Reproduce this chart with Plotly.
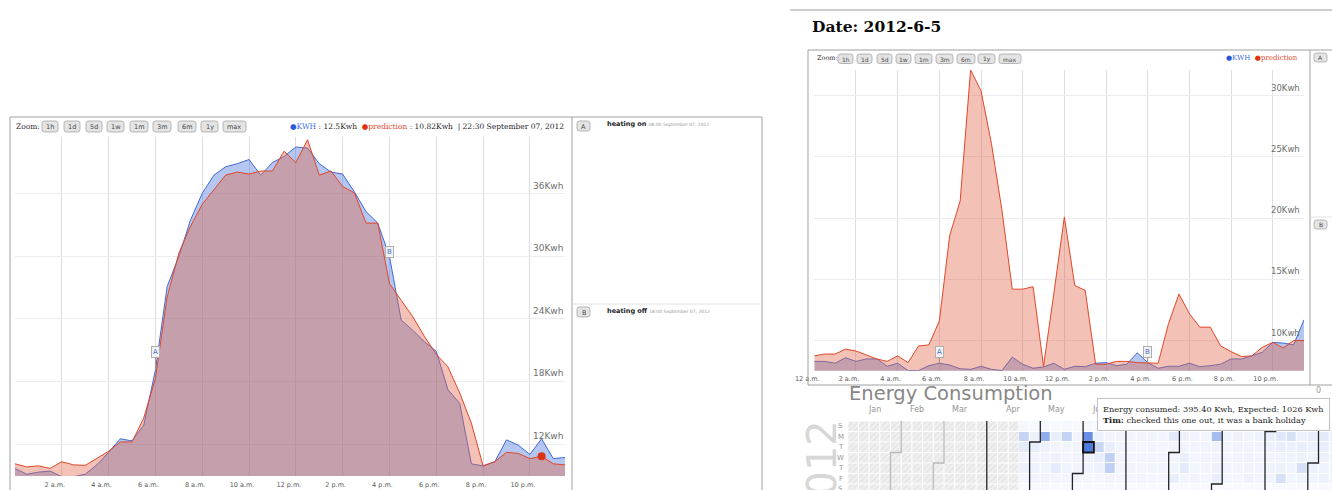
import datetime as dt
import plotly.graph_objects as go

W, H = 1332, 490

# ------------------------------------------------------------------ data
hours = [i * 0.5 for i in range(48)]
tick_hours = [0, 2, 4, 6, 8, 10, 12, 14, 16, 18, 20, 22]
tick_text = ["12 a.m.", "2 a.m.", "4 a.m.", "6 a.m.", "8 a.m.", "10 a.m.",
             "12 p.m.", "2 p.m.", "4 p.m.", "6 p.m.", "8 p.m.", "10 p.m."]

# 2012-09-07 (left chart)
sep_kwh = [9.66, 9.1, 9.3, 9.4, 8.86, 8.86, 9.1, 10.0, 11.2, 12.5, 12.3, 13.8,
           19.1, 27.1, 30.0, 33.5, 36.05, 37.8, 38.6, 38.9, 39.3, 37.8, 39.0, 39.6,
           40.5, 40.4, 38.9, 38.1, 37.9, 36.2, 34.3, 33.2, 30.0, 23.9, 22.9, 21.8,
           20.9, 17.2, 15.9, 10.1, 9.9, 10.3, 12.4, 11.9, 11.0, 12.5, 10.6, 10.7]
sep_pred = [10.1, 9.8, 9.9, 9.66, 10.3, 10.0, 9.95, 10.6, 11.3, 12.2, 12.2, 14.5,
            18.3, 26.1, 30.3, 32.9, 35.0, 36.4, 37.8, 38.1, 37.9, 38.2, 38.2, 40.1,
            39.0, 41.2, 37.8, 38.2, 36.7, 36.1, 33.2, 33.2, 27.4, 25.8, 24.2, 22.3,
            20.6, 19.4, 16.9, 14.0, 9.9, 10.3, 11.2, 11.1, 10.6, 10.82, 10.1, 10.0]
sep_yticks = [12, 18, 24, 30, 36]

# 2012-06-05 (right chart)
jun_kwh = [8.3, 8.3, 8.15, 8.6, 8.3, 8.5, 8.5, 7.9, 8.15, 7.55, 7.55, 7.95,
           8.15, 8.0, 7.7, 7.65, 7.9, 7.65, 7.55, 8.65, 8.07, 7.74, 7.85, 8.15,
           7.65, 7.9, 7.87, 8.15, 8.2, 7.95, 8.07, 9.0, 8.2, 7.74, 7.9, 7.9,
           8.15, 7.87, 7.95, 8.07, 8.5, 8.5, 8.75, 9.05, 9.85, 9.8, 9.65, 11.7]
jun_pred = [8.75, 8.9, 8.9, 9.3, 9.15, 8.8, 8.5, 8.3, 8.75, 8.2, 9.56, 9.65,
            11.6, 18.6, 21.4, 32.1, 30.4, 26.1, 20.7, 14.2, 14.2, 14.4, 7.9, 13.9,
            20.1, 14.5, 14.1, 8.07, 8.07, 8.3, 8.3, 8.2, 8.2, 8.15, 11.4, 13.8,
            12.2, 11.1, 11.1, 9.56, 9.1, 8.7, 8.75, 9.45, 9.85, 9.4, 10.0, 10.0]
jun_yticks = [10, 15, 20, 25, 30]

hover_idx = 45           # 22:30
flag_idx = {"A": 12, "B": 32}

# daily energy (Kwh) by week, rows Sun..Sat, first week = week 16 of 2012
heat_first_week = 16
heat_weeks = [
    [20, 150, 80, 40, 60, 30, 15], [15, 60, 70, 45, 50, 40, 15],
    [20, 260, 60, 50, 40, 45, 20], [15, 70, 40, 60, 75, 35, 15],
    [20, 150, 45, 40, 40, 30, 15], [15, 35, 40, 45, 40, 40, 20],
    [25, 340, 395.4, 60, 50, 30, 15], [20, 60, 140, 70, 60, 30, 15],
    [15, 45, 70, 160, 160, 40, 20], [15, 40, 45, 40, 35, 30, 15],
    [15, 30, 35, 30, 40, 35, 15], [15, 40, 30, 35, 30, 40, 15],
    [15, 50, 40, 35, 45, 30, 15], [15, 35, 30, 40, 35, 30, 15],
    [15, 80, 40, 35, 40, 70, 15], [15, 60, 45, 70, 80, 35, 15],
    [15, 40, 35, 30, 30, 40, 15], [15, 35, 40, 45, 35, 30, 15],
    [15, 220, 50, 40, 60, 70, 15], [15, 45, 40, 35, 40, 35, 15],
    [15, 60, 50, 40, 35, 30, 15], [15, 40, 45, 50, 40, 60, 15],
    [15, 50, 40, 35, 45, 40, 15], [15, 70, 60, 45, 50, 40, 15],
    [15, 90, 70, 50, 60, 110, 15], [15, 110, 60, 50, 45, 40, 15],
    [15, 60, 70, 60, 110, 50, 15], [15, 70, 60, 50, 60, 45, 15],
    [15, 80, 70, 60, 50, 60, 15], [15, 60, 50, 45, 40, 35, 15],
]
selected_date = dt.date(2012, 6, 5)
expected_kwh = 1026
month_names = ["Jan", "Feb", "Mar", "Apr", "May", "Jun"]   # later labels sit under the tooltip
day_letters = ["S", "M", "T", "W", "T", "F", "S"]

# ------------------------------------------------------------------ helpers
def px(x):
    return x / W

def py(y):
    return 1 - y / H

BLUE_L = "rgb(65,105,215)"
BLUE_F = "rgba(70,115,220,0.40)"
RED_L = "rgb(225,70,40)"
RED_F = "rgba(225,100,70,0.40)"

shapes = []
annots = []

def line(x0, y0, x1, y1, color="rgb(160,160,160)", width=1):
    shapes.append(dict(type="line", xref="paper", yref="paper",
                       x0=px(x0), y0=py(y0), x1=px(x1), y1=py(y1),
                       line=dict(color=color, width=width)))

def text(x, y, s, size, color="rgb(40,40,40)", family="DejaVu Sans",
         xanchor="left", yanchor="middle", **kw):
    annots.append(dict(xref="paper", yref="paper", x=px(x), y=py(y), text=s,
                       showarrow=False, xanchor=xanchor, yanchor=yanchor,
                       font=dict(size=size, color=color, family=family), **kw))

def button(x0, x1, y0, y1, label, size=6.5):
    r = 2.5
    p = (f"M {px(x0 + r)},{py(y0)} L {px(x1 - r)},{py(y0)} Q {px(x1)},{py(y0)} {px(x1)},{py(y0 + r)} "
         f"L {px(x1)},{py(y1 - r)} Q {px(x1)},{py(y1)} {px(x1 - r)},{py(y1)} "
         f"L {px(x0 + r)},{py(y1)} Q {px(x0)},{py(y1)} {px(x0)},{py(y1 - r)} "
         f"L {px(x0)},{py(y0 + r)} Q {px(x0)},{py(y0)} {px(x0 + r)},{py(y0)} Z")
    shapes.append(dict(type="path", xref="paper", yref="paper", path=p,
                       fillcolor="rgb(228,228,228)", line=dict(color="rgb(165,165,165)", width=0.8)))
    text((x0 + x1) / 2, (y0 + y1) / 2 + 0.5, label, size, "rgb(70,70,70)", xanchor="center")

# ------------------------------------------------------------------ traces
fig = go.Figure()
fig.add_trace(go.Scatter(x=hours, y=sep_kwh, mode="lines", fill="tozeroy", fillcolor=BLUE_F,
                         line=dict(color=BLUE_L, width=1), xaxis="x", yaxis="y"))
fig.add_trace(go.Scatter(x=hours, y=sep_pred, mode="lines", fill="tozeroy", fillcolor=RED_F,
                         line=dict(color=RED_L, width=1), xaxis="x", yaxis="y"))
fig.add_trace(go.Scatter(x=[hours[hover_idx]], y=[sep_pred[hover_idx]], mode="markers",
                         marker=dict(size=8, color="rgb(220,50,20)"), xaxis="x", yaxis="y"))
fig.add_trace(go.Scatter(x=hours, y=jun_kwh, mode="lines", fill="tozeroy", fillcolor=BLUE_F,
                         line=dict(color=BLUE_L, width=1), xaxis="x2", yaxis="y2"))
fig.add_trace(go.Scatter(x=hours, y=jun_pred, mode="lines", fill="tozeroy", fillcolor=RED_F,
                         line=dict(color=RED_L, width=1), xaxis="x2", yaxis="y2"))

# y tick labels (drawn inside the plot, above each grid line)
for v in sep_yticks:
    annots.append(dict(xref="paper", yref="y", x=px(565), y=v, text=f"{v}Kwh", showarrow=False,
                       xanchor="right", yanchor="bottom", yshift=1,
                       font=dict(size=9, color="rgb(110,110,110)", family="DejaVu Sans")))
for v in jun_yticks:
    annots.append(dict(xref="paper", yref="y2", x=px(1302), y=v, text=f"{v}Kwh", showarrow=False,
                       xanchor="right", yanchor="bottom", yshift=1,
                       font=dict(size=8.5, color="rgb(110,110,110)", family="DejaVu Sans")))

# calendar heatmap
jan1 = dt.date(2012, 1, 1)
jan1_wd = (jan1.weekday() + 1) % 7  # Sunday = 0

def cell(d):
    doy = (d - jan1).days
    return (doy + jan1_wd) // 7, (d.weekday() + 1) % 7

n_weeks = heat_first_week + len(heat_weeks)
z = [[None] * n_weeks for _ in range(7)]
for k, wk in enumerate(heat_weeks):
    for r, v in enumerate(wk):
        z[r][heat_first_week + k] = v

hx, hb = [], []
d = jan1
while cell(d)[0] < heat_first_week:
    w, r = cell(d)
    hx.append(w)
    hb.append(r - 0.46)
    d += dt.timedelta(days=1)
fig.add_trace(go.Bar(x=hx, y=[0.92] * len(hx), base=hb, width=0.9,
                     marker=dict(color="rgb(240,240,240)", line=dict(width=0),
                                 pattern=dict(shape="/", fgcolor="rgb(205,205,205)", size=4, solidity=0.25)),
                     xaxis="x3", yaxis="y3"))
fig.add_trace(go.Heatmap(z=z, x=list(range(n_weeks)), y=list(range(7)), zmin=0, zmax=400,
                         colorscale=[[0, "rgb(250,251,255)"], [0.15, "rgb(236,241,252)"],
                                     [0.5, "rgb(175,195,240)"], [1, "rgb(75,120,225)"]],
                         showscale=False, xgap=1, ygap=1, xaxis="x3", yaxis="y3"))

# month boundaries
for m in range(2, 12):
    w, r = cell(dt.date(2012, m, 1))
    col = "rgb(35,35,35)" if w + (1 if r else 0) >= heat_first_week - 3 else "rgb(185,185,185)"
    if r == 0:
        p = f"M {w - 0.5},-0.5 L {w - 0.5},7"
    else:
        p = f"M {w + 0.5},-0.5 L {w + 0.5},{r - 0.5} L {w - 0.5},{r - 0.5} L {w - 0.5},7"
    shapes.append(dict(type="path", xref="x3", yref="y3", path=p, line=dict(color=col, width=1.3)))
sw, sr = cell(selected_date)
shapes.append(dict(type="rect", xref="x3", yref="y3", x0=sw - 0.5, x1=sw + 0.5, y0=sr - 0.5, y1=sr + 0.5,
                   line=dict(color="rgb(20,20,20)", width=2)))
for i, name in enumerate(month_names):
    w, _ = cell(dt.date(2012, i + 1, 1))
    annots.append(dict(xref="x3", yref="paper", x=w + 2, y=py(415), text=name, showarrow=False,
                       borderpad=0, font=dict(size=8, color="rgb(150,150,150)", family="DejaVu Sans")))
for r, s in enumerate(day_letters):
    annots.append(dict(xref="paper", yref="y3", x=px(841), y=r, text=s, showarrow=False,
                       font=dict(size=7, color="rgb(150,150,150)", family="DejaVu Sans")))

# ------------------------------------------------------------------ frames / chrome
line(790, 10, 1332, 10, "rgb(205,205,205)", 2)
text(810, 27, "<b>Date: 2012-6-5</b>", 15.5, "rgb(10,10,10)", "DejaVu Serif")

# left chart frame
line(10, 117, 762, 117)
line(10, 117, 10, 490)
line(762, 117, 762, 490)
line(572, 117, 572, 490)
line(572, 304, 762, 304, "rgb(225,225,225)")
# right chart frame
line(808, 50, 1332, 50)
line(808, 50, 808, 385)
line(808, 385, 1332, 385)
line(1310, 50, 1310, 385)
line(1310, 217, 1332, 217, "rgb(225,225,225)")

zoom_labels = ["1h", "1d", "5d", "1w", "1m", "3m", "6m", "1y", "max"]
left_btn_x = [(42, 58), (64, 80), (86, 102), (107, 124), (130, 148), (153, 171), (178, 196), (201, 218), (223, 246)]
right_btn_x = [(838, 853), (857, 872), (877, 892), (896, 911), (915, 932), (936, 953), (957, 975), (978, 995), (999, 1021)]
text(14, 126.5, "Zoom:", 7.5, "rgb(50,50,50)", "DejaVu Serif")
for (a, b), lab in zip(left_btn_x, zoom_labels):
    button(a, b, 121, 132, lab)
text(815, 58.5, "Zoom:", 6.5, "rgb(50,50,50)", "DejaVu Serif")
for (a, b), lab in zip(right_btn_x, zoom_labels):
    button(a, b, 54, 63.5, lab, 6)

legend_left = (f"<span style='color:rgb(40,90,220)'>●</span><span style='color:rgb(70,110,220)'>KWH</span>"
               f" : {sep_kwh[hover_idx]}Kwh  <span style='color:rgb(225,50,20)'>●</span>"
               f"<span style='color:rgb(225,70,40)'>prediction</span> : {sep_pred[hover_idx]}Kwh  | 22:30 September 07, 2012")
text(566, 126.5, legend_left, 7.5, "rgb(40,40,40)", "DejaVu Serif", xanchor="right")
legend_right = ("<span style='color:rgb(40,90,220)'>●</span><span style='color:rgb(70,110,220)'>KWH</span>  "
                "<span style='color:rgb(225,50,20)'>●</span><span style='color:rgb(225,70,40)'>prediction</span>")
text(1300, 58.5, legend_right, 7, "rgb(40,40,40)", "DejaVu Serif", xanchor="right")

# event panels
button(577, 590, 121, 131, "A")
button(577, 590, 307, 317, "B")
text(605, 124, "<b>heating on</b> <span style='font-size:4.5px;color:rgb(150,150,150)'>08:00 September 07, 2012</span>",
     6.5, "rgb(30,30,30)")
text(605, 311, "<b>heating off</b> <span style='font-size:4.5px;color:rgb(150,150,150)'>18:00 September 07, 2012</span>",
     6.5, "rgb(30,30,30)")
button(1314, 1327, 53, 62, "A", 6)
button(1314, 1327, 220, 229, "B", 6)
text(1318, 390, "0", 8, "rgb(150,150,150)", xanchor="center")

# flags on series
for lab, i in flag_idx.items():
    for xa, ya, series, off in (("x", "y", sep_kwh, -18 if lab == "A" else -4), ("x2", "y2", jun_kwh, -11)):
        annots.append(dict(xref=xa, yref=ya, x=hours[i], y=series[i], text=lab, showarrow=True,
                           arrowhead=0, arrowwidth=1, arrowcolor="rgb(150,150,150)", ax=0, ay=off,
                           bgcolor="rgb(242,242,242)", bordercolor="rgb(175,175,175)", borderwidth=1,
                           borderpad=1, font=dict(size=7, color="rgb(70,110,200)", family="DejaVu Sans")))

# heatmap title and year
text(848, 393, "Energy Consumption", 19.5, "rgb(135,135,135)", xanchor="left", borderpad=0)
text(822, 471, "2012", 40, "rgb(215,215,215)", xanchor="center", textangle=-90)

# tooltip
sel_val = heat_weeks[sw - heat_first_week][sr]
annots.append(dict(xref="paper", yref="paper", x=px(1097), y=py(398), xanchor="left", yanchor="top",
                   showarrow=False, align="left", bgcolor="white", bordercolor="rgb(195,195,195)",
                   borderwidth=1, borderpad=5,
                   text=(f"Energy consumed: {sel_val:.2f} Kwh, Expected: {expected_kwh} Kwh<br>"
                         "<b>Tim:</b> checked this one out, it was a bank holiday"),
                   font=dict(size=8.2, color="rgb(30,30,30)", family="DejaVu Serif")))

# ------------------------------------------------------------------ axes
xcommon = dict(tickvals=tick_hours, ticktext=tick_text, showgrid=True, gridcolor="rgb(222,222,222)",
               zeroline=False, showline=False, ticks="", ticklabelshift=-7, ticklabelstandoff=3,
               tickfont=dict(size=6.5, color="rgb(90,90,90)", family="DejaVu Sans"))
ycommon = dict(side="right", showticklabels=False, showgrid=True,
               gridcolor="rgb(236,236,242)", zeroline=False, showline=False, ticks="")

fig.update_layout(
    width=W, height=H, margin=dict(l=0, r=0, t=0, b=0, autoexpand=False),
    paper_bgcolor="white", plot_bgcolor="white",
    showlegend=False, hovermode=False, barmode="overlay",
    xaxis=dict(domain=[px(15), px(565)], range=[0, 23.5], anchor="y", **xcommon),
    yaxis=dict(domain=[py(476), py(137)], range=[8.93, 41.46], anchor="x", tickvals=sep_yticks, **ycommon),
    xaxis2=dict(domain=[px(814.3), px(1304)], range=[0, 23.5], anchor="y2", **xcommon),
    yaxis2=dict(domain=[py(370.7), py(70)], range=[7.54, 32.1], anchor="x2", tickvals=jun_yticks, **ycommon),
    xaxis3=dict(domain=[px(847.7), 1.0], range=[-0.5, -0.5 + (W - 847.7) / 10.7], anchor="y3", visible=False),
    yaxis3=dict(domain=[0, py(421)], range=[-0.5 + (H - 421) / 10.5, -0.5], anchor="x3", visible=False),
    shapes=shapes, annotations=annots,
)

fig.write_html("out.html", config={"displayModeBar": False},
               post_script="document.body.style.margin='0';document.body.style.overflow='hidden';")
